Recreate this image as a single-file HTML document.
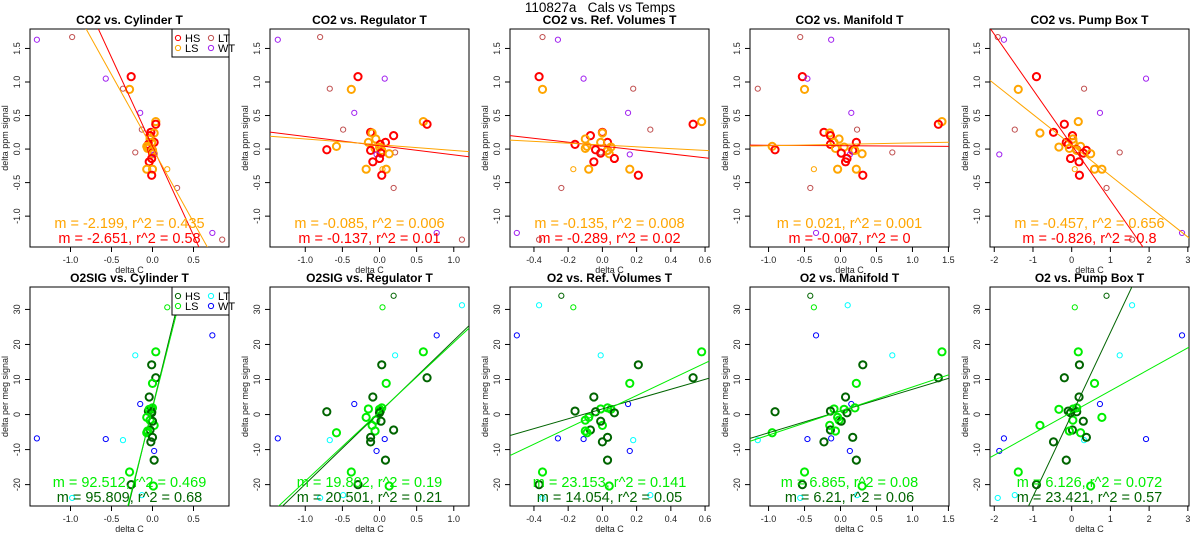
<!DOCTYPE html>
<html><head><meta charset="utf-8">
<style>
html,body{margin:0;padding:0;background:#fff;overflow:hidden;width:1200px;height:550px;}
svg{display:block;font-family:"Liberation Sans",sans-serif;overflow:hidden;}
</style></head>
<body>
<svg id="chart" width="1200" height="550" viewBox="0 0 1200 550" xmlns="http://www.w3.org/2000/svg">
<text x="600" y="12" text-anchor="middle" font-size="13.5" xml:space="preserve">110827a&#160;&#160;&#160;Cals vs Temps</text>
</svg>
<script>
// ---- data ----
const colTitles = ["Cylinder T","Regulator T","Ref. Volumes T","Manifold T","Pump Box T"];
const topTitlePrefix = ["CO2","CO2","CO2","CO2","CO2"];
const botTitlePrefix = ["O2SIG","O2SIG","O2","O2","O2"];
const topType = ["LT","WT","HS","WT","LT","LS","WT","LS","HS","LT","HS","LS","HS","LS","HS","LS","HS","LS","LS","LS","HS","HS","LS","LT","HS","LS","WT","HS","HS","LS","LS","LSt","HS","LT","WT","LT"];
const botType = ["LT","WT","HS","WT","LT","LS","WT","LS","HS","LT","HS","LS","HS","LS","HS","LS","HS","LS","LS","LS","HS","HS","LS","LT","HS","LS","WT","HS","HS","LS","LS","LSt","HS","HSt","WT","LT"];
const co2 = [1.67,1.63,1.08,1.05,0.90,0.89,0.54,0.41,0.37,0.29,0.25,0.24,0.20,0.15,0.10,0.10,0.07,0.04,0.03,0.01,-0.01,-0.02,-0.02,-0.05,-0.06,-0.07,-0.08,-0.14,-0.19,-0.30,-0.30,-0.30,-0.39,-0.58,-1.25,-1.35];
const o2 = [-23.8,-6.8,-20.0,-7.0,-7.3,-16.4,3.0,17.9,10.5,-23.0,-7.8,-3.1,-4.4,-1.6,-13.0,1.6,1.0,-5.2,1.5,-4.7,0.8,-6.5,1.9,16.9,-1.9,-20.4,-10.4,0.5,5.0,8.9,-0.8,30.6,14.2,33.9,22.6,31.2];
const xCyl = [-0.98,-1.41,-0.26,-0.57,-0.36,-0.28,-0.15,0.04,0.04,-0.13,-0.02,0.02,-0.03,-0.03,0.02,-0.01,-0.05,-0.07,-0.04,-0.06,-0.01,0.0,0.0,-0.21,0.0,0.01,0.02,-0.01,-0.04,0.0,-0.07,0.18,-0.01,0.30,0.73,0.85];
const xReg = [-0.80,-1.37,-0.29,0.07,-0.67,-0.38,-0.34,0.59,0.64,-0.49,-0.12,-0.10,0.19,-0.05,0.08,-0.15,0.01,-0.58,0.0,-0.06,-0.71,-0.12,0.03,0.21,0.02,0.13,-0.04,0.0,-0.09,0.09,-0.18,0.04,0.03,0.19,0.77,1.11];
const xRef = [-0.35,-0.26,-0.37,-0.11,0.18,-0.35,0.15,0.58,0.53,0.28,0.0,0.0,-0.07,-0.10,0.03,-0.01,-0.16,-0.09,0.05,-0.10,-0.04,0.03,0.03,-0.01,-0.01,0.04,0.16,0.07,-0.05,0.16,-0.08,-0.17,0.21,-0.24,-0.50,-0.37];
const xMan = [-0.56,-0.13,-0.53,-0.46,-1.15,-0.50,0.15,1.41,1.36,0.23,-0.23,-0.15,-0.14,-0.02,0.22,-0.09,-0.14,-0.95,0.05,-0.07,-0.91,0.17,0.20,0.72,0.01,0.30,0.13,0.09,0.07,0.22,-0.04,-0.37,0.31,-0.42,-0.34,0.10];
const xPump = [-1.91,-1.75,-0.91,1.92,0.32,-1.38,0.73,0.17,-0.19,-1.47,-0.47,-0.82,0.02,0.03,-0.14,0.04,-0.09,0.23,-0.33,-0.06,0.13,0.38,0.13,1.24,0.30,0.49,-1.87,-0.03,0.19,0.59,0.78,0.08,0.20,0.90,2.85,1.56];
const xCols = [xCyl,xReg,xRef,xMan,xPump];
const topSlopeLS = [-2.199,-0.085,-0.135,0.021,-0.457];
const topIntLS = [0.01,0.065,0.061,0.07,0.06];
const topSlopeHS = [-2.651,-0.137,-0.289,-0.007,-0.826];
const topIntHS = [0.04,0.05,0.044,0.05,0.06];
const topR2LS = ["0.435","0.006","0.008","0.001","0.656"];
const topR2HS = ["0.58","0.01","0.02","0","0.8"];
const botSlopeLS = [92.512,19.802,23.153,6.865,6.126];
const botIntLS = [1.75,0.8,0.8,1.0,0.66];
const botSlopeHS = [95.809,20.501,14.054,6.21,23.421];
const botIntHS = [2.0,0.65,1.6,1.0,0.0];
const botR2LS = ["0.469","0.19","0.141","0.08","0.072"];
const botR2HS = ["0.68","0.21","0.05","0.06","0.57"];
const xTicks = [[-1.0,-0.5,0.0,0.5],[-1.0,-0.5,0.0,0.5,1.0],[-0.4,-0.2,0.0,0.2,0.4,0.6],[-1.0,-0.5,0.0,0.5,1.0,1.5],[-2,-1,0,1,2,3]];
const xTickLabels = [["-1.0","-0.5","0.0","0.5"],["-1.0","-0.5","0.0","0.5","1.0"],["-0.4","-0.2","0.0","0.2","0.4","0.6"],["-1.0","-0.5","0.0","0.5","1.0","1.5"],["-2","-1","0","1","2","3"]];
const xLims = [[-1.494,0.933],[-1.475,1.205],[-0.54,0.623],[-1.258,1.508],[-2.11,3.03]];
const topYTicks = [-1.0,-0.5,0.0,0.5,1.0,1.5];
const topYLabels = ["-1.0","-0.5","0.0","0.5","1.0","1.5"];
const botYTicks = [-20,-10,0,10,20,30];
const botYLabels = ["-20","-10","0","10","20","30"];
const topYLim = [-1.46,1.79];
const botYLim = [-26.1,36.4];

const topStyle = {HS:["#ff0000",2,3.6],LS:["#ffa500",2,3.6],LSt:["#ffa500",1,2.6],HSt:["#ff0000",1,2.6],LT:["#c05050",1,2.6],WT:["#a020f0",1,2.6]};
const botStyle = {HS:["#006400",2,3.6],LS:["#00ee00",2,3.6],LSt:["#00ee00",1,2.6],HSt:["#006400",1,2.6],LT:["#00ffff",1,2.6],WT:["#0000ff",1,2.6]};
const svg = document.getElementById('chart');
const NS = "http://www.w3.org/2000/svg";
function mk(tag, attrs, parent){const e=document.createElementNS(NS,tag);for(const k in attrs)e.setAttribute(k,attrs[k]);(parent||svg).appendChild(e);return e;}

function panel(col,row){
  const L=30+240*col, R=229+240*col;
  const T=row===0?29:287, B=row===0?247:506;
  const yl=row===0?topYLim:botYLim, xl=xLims[col];
  const sx=v=>L+(v-xl[0])/(xl[1]-xl[0])*(R-L);
  const sy=v=>B-(v-yl[0])/(yl[1]-yl[0])*(B-T);
  const g=mk('g',{});
  
  
  const clipId='clip'+row+col;
  const cp=mk('clipPath',{id:clipId},g);mk('rect',{x:L,y:T,width:R-L,height:B-T},cp);
  const t=mk('text',{x:(L+R)/2,y:T-5,'text-anchor':'middle','font-size':12,'font-weight':'bold'},g);
  t.textContent=(row===0?topTitlePrefix[col]:botTitlePrefix[col])+' vs. '+colTitles[col];
  
  
  const xt=xTicks[col];
  mk('line',{x1:sx(xt[0]),x2:sx(xt[xt.length-1]),y1:B,y2:B,stroke:'#000','stroke-width':1},g);
  xt.forEach((v,i)=>{
    mk('line',{x1:sx(v),x2:sx(v),y1:B,y2:B+5,stroke:'#000'},g);
    const tl=mk('text',{x:sx(v),y:B+16,'text-anchor':'middle','font-size':9,fill:'#222'},g);
    tl.textContent=xTickLabels[col][i];
    
    
  });
  const xa=mk('text',{x:(L+R)/2,y:B+26,'text-anchor':'middle','font-size':9,fill:'#222'},g);
  xa.textContent='delta C';
  
  
  const yt=row===0?topYTicks:botYTicks, ylab=row===0?topYLabels:botYLabels;
  mk('line',{x1:L,x2:L,y1:sy(yt[0]),y2:sy(yt[yt.length-1]),stroke:'#000'},g);
  yt.forEach((v,i)=>{
    mk('line',{x1:L-5,x2:L,y1:sy(v),y2:sy(v),stroke:'#000'},g);
    const tl=mk('text',{x:0,y:0,'text-anchor':'middle','font-size':9,fill:'#222',transform:`translate(${L-10},${sy(v)}) rotate(-90)`},g);
    tl.textContent=ylab[i];
    
    
  });
  const ya=mk('text',{x:0,y:0,'text-anchor':'middle','font-size':9,fill:'#222',transform:`translate(${L-22},${(T+B)/2}) rotate(-90)`},g);
  ya.textContent=row===0?'delta ppm signal':'delta per meg signal';
  
  
  mk('rect',{x:L,y:T,width:R-L,height:B-T,fill:'none',stroke:'#000','stroke-width':1},g);
  const st=row===0?topStyle:botStyle, types=row===0?topType:botType, ys=row===0?co2:o2, xs=xCols[col];
  const pg=mk('g',{'clip-path':`url(#${clipId})`},g);
  xs.forEach((xv,i)=>{
    const s=st[types[i]];
    const c=mk('circle',{cx:sx(xv),cy:sy(ys[i]),r:s[2],fill:'none',stroke:s[0],'stroke-width':s[1]},pg);
    
    
  });
  const slLS=row===0?topSlopeLS[col]:botSlopeLS[col], inLS=row===0?topIntLS[col]:botIntLS[col];
  const slHS=row===0?topSlopeHS[col]:botSlopeHS[col], inHS=row===0?topIntHS[col]:botIntHS[col];
  const cLS=row===0?'#ffa500':'#00ee00', cHS=row===0?'#ff0000':'#006400';
  const l1=mk('line',{x1:sx(xl[0]),y1:sy(inHS+slHS*xl[0]),x2:sx(xl[1]),y2:sy(inHS+slHS*xl[1]),stroke:cHS,'stroke-width':1},pg);
  
  
  const l2=mk('line',{x1:sx(xl[0]),y1:sy(inLS+slLS*xl[0]),x2:sx(xl[1]),y2:sy(inLS+slLS*xl[1]),stroke:cLS,'stroke-width':1},pg);
  
  
  const r2LS=row===0?topR2LS[col]:botR2LS[col], r2HS=row===0?topR2HS[col]:botR2HS[col];
  const s1=mk('text',{x:(L+R)/2,y:B-19,'text-anchor':'middle','font-size':14.5,fill:cLS},g);
  s1.textContent=`m = ${slLS.toFixed(3).replace(/0+$/,'').replace(/\.$/,'')}, r^2 = ${r2LS}`;
  
  
  const s2=mk('text',{x:(L+R)/2,y:B-4,'text-anchor':'middle','font-size':14.5,fill:cHS},g);
  s2.textContent=`m = ${slHS.toFixed(3).replace(/0+$/,'').replace(/\.$/,'')}, r^2 = ${r2HS}`;
  
  
  if(col===0){
    const lg=mk('g',{},g);
    
    
    mk('rect',{x:172,y:T,width:R-172,height:28,fill:'#fff',stroke:'#000'},lg);
    const ents=[['HS',178,T+9],['LS',178,T+19],['LT',211,T+9],['WT',211,T+19]];
    ents.forEach(e=>{
      const s=st[e[0]];
      mk('circle',{cx:e[1],cy:e[2],r:2.6,fill:'none',stroke:s[0],'stroke-width':1},lg);
      const tx=mk('text',{x:e[1]+7,y:e[2]+4,'font-size':11},lg);
      tx.textContent=e[0];
      
      
    });
  }
}
for(let r=0;r<2;r++)for(let c=0;c<5;c++)panel(c,r);
</script>
</body></html>
